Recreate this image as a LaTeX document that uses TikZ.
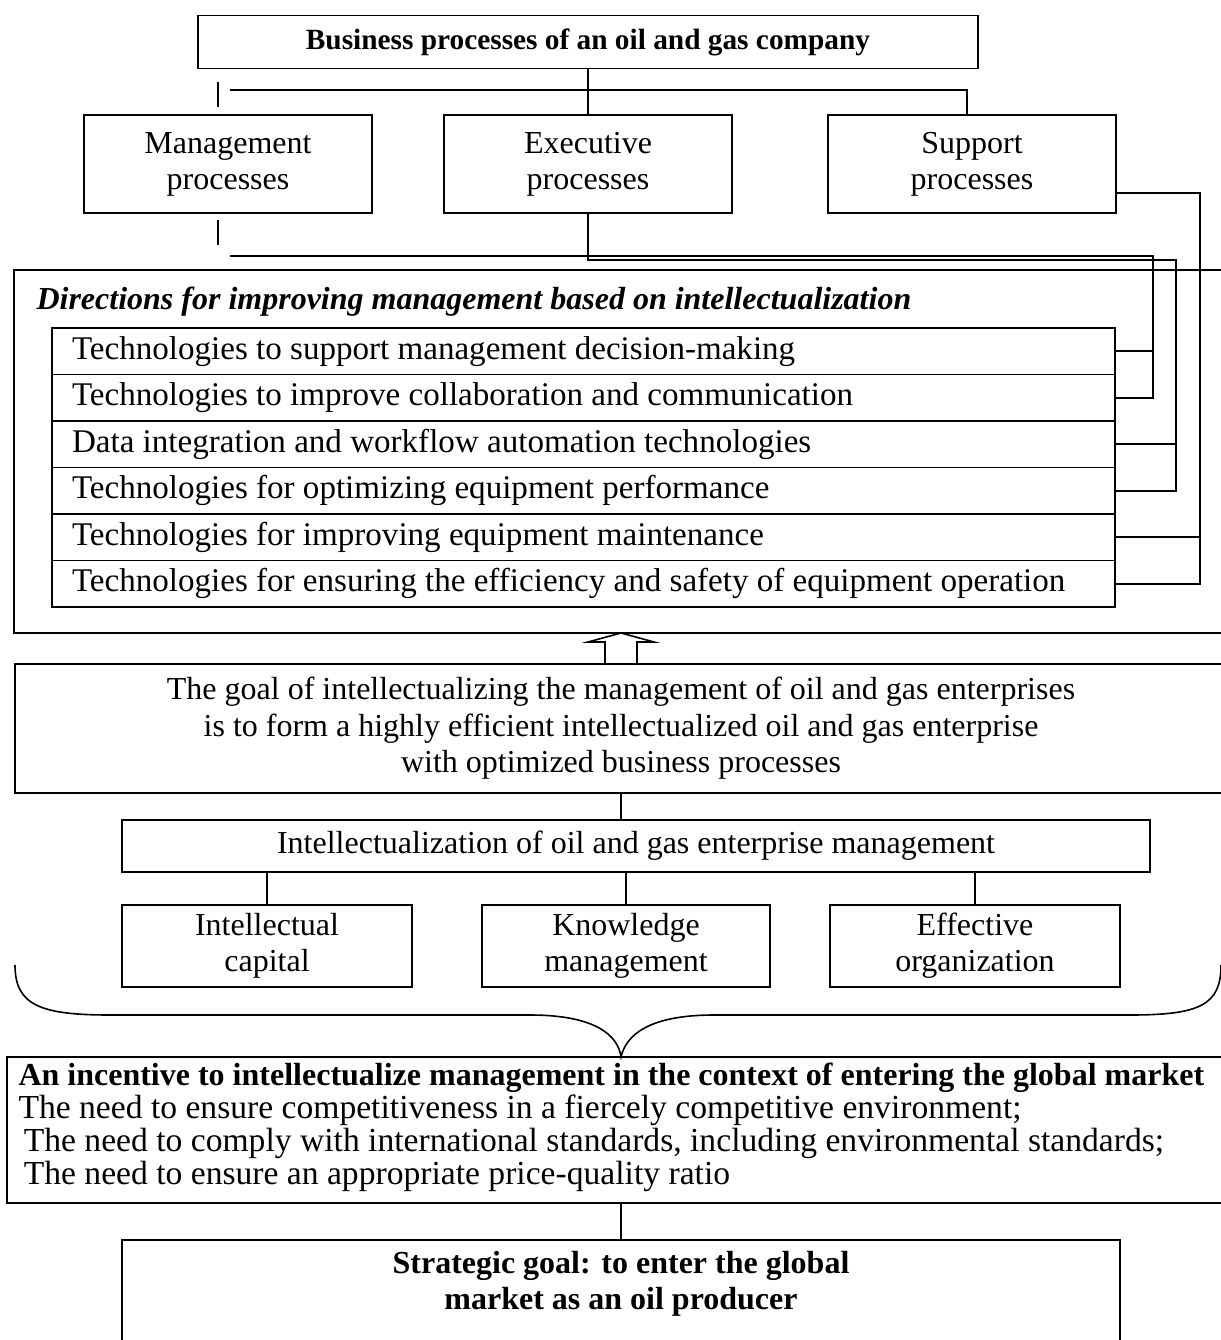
\documentclass[tikz,border=0pt]{standalone}
\usepackage{fontspec}
\setmainfont{Liberation Serif}
\usetikzlibrary{positioning, calc}

\begin{document}
\begin{tikzpicture}[
        x=0.375pt, y=-0.375pt,
        boxsize/.style 2 args={minimum width=#1*0.375pt, minimum height=#2*0.375pt},
        box/.style={rectangle, draw, line width=0.6pt, inner sep=0pt, outer sep=0pt, align=center, font=\fontsize{12}{13.5}\selectfont},
        row/.style={rectangle, draw, line width=0.6pt, outer sep=0pt, inner xsep=7.5pt, inner ysep=0pt, text width=383.6pt, minimum height=46.5*0.375pt, align=flush left, font=\fontsize{12.4}{14}\selectfont},
        frame/.style={rectangle, draw, line width=1.1pt, inner sep=0pt, outer sep=0pt},
        line/.style={line width=0.6pt, -}
    ]
        \useasboundingbox (0,0) rectangle (1221,1340);
        \clip (0,0) rectangle (1221,1340);

        \node[box, boxsize={780}{53}, font=\fontsize{11}{13}\selectfont\bfseries] (bp) at (588, 42) {Business processes of an oil and gas company};

        \node[box, boxsize={288}{98}] (mgmt) at (228, 164) {Management\\processes};
        \node[box, boxsize={288}{98}] (exec) at (588, 164) {Executive\\processes};
        \node[box, boxsize={288}{98}] (supp) at (972, 164) {Support\\processes};

        \node[frame, boxsize={1226}{363}] (frame) at (627, 451.5) {};
        \node[anchor=base west, inner sep=0pt, font=\fontsize{12}{14}\selectfont\bfseries\itshape] (dirtitle) at (36, 310) {Directions for improving management based on intellectualization};

        \foreach \txt [count=\i] in {Technologies to support management decision-making,
                Technologies to improve collaboration and communication,
                Data integration and workflow automation technologies,
                Technologies for optimizing equipment performance,
                Technologies for improving equipment maintenance,
                Technologies for ensuring the efficiency and safety of equipment operation}
            \node[row] (r\i) at (583.5, {304.75+46.5*\i}) {\txt};

        \node[box, boxsize={1212}{129}, font=\fontsize{12}{13.7}\selectfont] (goal) at (621, 728.5) {The goal of intellectualizing the management of oil and gas enterprises\\is to form a highly efficient intellectualized oil and gas enterprise\\with optimized business processes};

        \node[box, boxsize={1028}{52}] (intel) at (636, 846) {Intellectualization of oil and gas enterprise management};

        \node[box, boxsize={290}{82}] (ic) at (267, 946) {Intellectual\\capital};
        \node[box, boxsize={288}{82}] (km) at (626, 946) {Knowledge\\management};
        \node[box, boxsize={290}{82}] (eo) at (975, 946) {Effective\\organization};

        \node[box, anchor=north west, boxsize={1290}{146}] (inc) at (7, 1057) {};
        \draw[line width=1.1pt] (inc.north west) -- (inc.north east);
        \node[anchor=north west, inner sep=0pt, align=left, font=\fontsize{12.6}{12.4}\selectfont] (inctext) at ($(inc.north west)+(11,5)$) {{\fontsize{12}{12.4}\selectfont\bfseries An incentive to intellectualize management in the context of entering the global market}\\The need to ensure competitiveness in a fiercely competitive environment;\\\hspace{2pt}The need to comply with international standards, including environmental standards;\\\hspace{2pt}The need to ensure an appropriate price-quality ratio};

        \node[box, anchor=north, boxsize={998}{130}] (strat) at (621, 1240) {};
        \node[inner sep=0pt, align=center, font=\fontsize{12}{13.5}\selectfont\bfseries] (strattext) at ($(strat.north)+(0,44)$) {Strategic goal: to enter the global\\market as an oil producer};

        % top level
        \draw[line] (bp.south) -- (exec.north);
        \draw[line] ($(mgmt.north)+(-10,-33)$) -- ($(mgmt.north)+(-10,-8)$);
        \draw[line] ($(mgmt.north)+(2,-25)$) -| ($(supp.north)+(-5,0)$);

        % processes to directions
        \draw[line] ($(mgmt.south)+(-10,7)$) -- ($(mgmt.south)+(-10,32)$);
        \draw[line] ($(mgmt.south)+(2,43)$) -| ($(r2.east)+(38,0)$) -- (r2.east);
        \draw[line] (r1.east) -- ++(38,0);
        \draw[line] (exec.south) -- ++(0,47) -| ($(r4.east)+(61,0)$) -- (r4.east);
        \draw[line] (r3.east) -- ++(61,0);
        \draw[line] ($(supp.east)+(0,29)$) -| ($(r6.east)+(85,0)$) -- (r6.east);
        \draw[line] (r5.east) -- ++(85,0);

        % hollow arrow
        \draw[line] ($(goal.north)+(-16,0)$) -- ++(0,-22) -- ++(-17,0) -- (goal.north |- frame.south) -- ($(goal.north)+(33,-22)$) -- ++(-17,0) -- ++(0,22);

        \draw[line] (goal.south) -- (goal.south |- intel.north);
        \draw[line] (ic.north) -- (ic.north |- intel.south);
        \draw[line] (km.north) -- (km.north |- intel.south);
        \draw[line] (eo.north) -- (eo.north |- intel.south);

        % brace
        \coordinate (bracetip) at (inc.north -| goal.south);
        \draw[line] (15,965) .. controls (15,1005) and (40,1015) .. (110,1015) -- (530,1015) .. controls (595,1015) and (618,1035) .. (bracetip) .. controls (626,1035) and (649,1015) .. (714,1015) -- (1130,1015) .. controls (1200,1015) and (1221,1005) .. (1221,965);

        \draw[line] (inc.south -| goal.south) -- (strat.north);
    \end{tikzpicture}
\end{document}
